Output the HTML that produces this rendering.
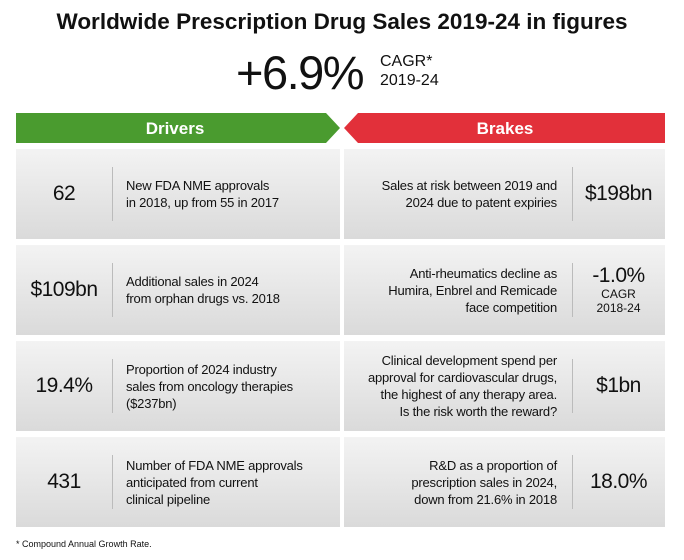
<!DOCTYPE html>
<html><head><meta charset="utf-8"><style>
body{margin:0;width:684px;height:560px;background:#fff;font-family:"Liberation Sans",sans-serif;color:#111;position:relative;overflow:hidden}
.abs{position:absolute}
.card{position:absolute;height:90px;background:linear-gradient(#f3f3f3,#dadada)}
.val{position:absolute;top:0;height:100%;display:flex;align-items:center;justify-content:center;font-size:21px;letter-spacing:-0.5px}
.div{position:absolute;top:18px;bottom:18px;width:1px;background:#bbb}
.txt{position:absolute;top:0;height:100%;display:flex;align-items:center;font-size:13px;line-height:17px;letter-spacing:-0.2px}
</style></head><body>
<div class="abs" style="left:0;width:684px;top:9px;text-align:center;font-size:22.5px;font-weight:bold">Worldwide Prescription Drug Sales 2019-24 in figures</div>
<div class="abs" style="left:236px;top:45px;font-size:47px;letter-spacing:-1.5px">+6.9%</div>
<div class="abs" style="left:380px;top:52px;font-size:16px;line-height:19px">CAGR*<br>2019-24</div>
<svg class="abs" style="left:0;top:0" width="684" height="150">
<polygon points="16,113 326,113 340,128 326,143 16,143" fill="#4a9b2f"/>
<polygon points="358,113 665,113 665,143 358,143 344,128" fill="#e2303a"/>
<text x="175" y="134" text-anchor="middle" font-family="Liberation Sans" font-weight="bold" font-size="17" fill="#fff">Drivers</text>
<text x="505" y="134" text-anchor="middle" font-family="Liberation Sans" font-weight="bold" font-size="17" fill="#fff">Brakes</text>
</svg>

<div class="card" style="left:16px;width:324px;top:149px"><div class="val" style="left:0;width:96px">62</div><div class="div" style="left:96px"></div><div class="txt" style="left:110px">New FDA NME approvals<br>in 2018, up from 55 in 2017</div></div>
<div class="card" style="left:16px;width:324px;top:245px"><div class="val" style="left:0;width:96px">$109bn</div><div class="div" style="left:96px"></div><div class="txt" style="left:110px">Additional sales in 2024<br>from orphan drugs vs. 2018</div></div>
<div class="card" style="left:16px;width:324px;top:341px"><div class="val" style="left:0;width:96px">19.4%</div><div class="div" style="left:96px"></div><div class="txt" style="left:110px">Proportion of 2024 industry<br>sales from oncology therapies<br>($237bn)</div></div>
<div class="card" style="left:16px;width:324px;top:437px"><div class="val" style="left:0;width:96px">431</div><div class="div" style="left:96px"></div><div class="txt" style="left:110px">Number of FDA NME approvals<br>anticipated from current<br>clinical pipeline</div></div>

<div class="card" style="left:344px;width:321px;top:149px"><div class="txt" style="right:108px;text-align:right;justify-content:flex-end">Sales at risk between 2019 and<br>2024 due to patent expiries</div><div class="div" style="left:228px"></div><div class="val" style="left:228px;width:93px">$198bn</div></div>
<div class="card" style="left:344px;width:321px;top:245px"><div class="txt" style="right:108px;text-align:right;justify-content:flex-end">Anti-rheumatics decline as<br>Humira, Enbrel and Remicade<br>face competition</div><div class="div" style="left:228px"></div><div class="val" style="left:228px;width:93px;flex-direction:column;line-height:22px">-1.0%<span style="font-size:12px;line-height:14px;letter-spacing:0;text-align:center">CAGR<br>2018-24</span></div></div>
<div class="card" style="left:344px;width:321px;top:341px"><div class="txt" style="right:108px;text-align:right;justify-content:flex-end">Clinical development spend per<br>approval for cardiovascular drugs,<br>the highest of any therapy area.<br>Is the risk worth the reward?</div><div class="div" style="left:228px"></div><div class="val" style="left:228px;width:93px">$1bn</div></div>
<div class="card" style="left:344px;width:321px;top:437px"><div class="txt" style="right:108px;text-align:right;justify-content:flex-end">R&amp;D as a proportion of<br>prescription sales in 2024,<br>down from 21.6% in 2018</div><div class="div" style="left:228px"></div><div class="val" style="left:228px;width:93px">18.0%</div></div>

<div class="abs" style="left:16px;top:539px;font-size:9px">* Compound Annual Growth Rate.</div>
</body></html>
